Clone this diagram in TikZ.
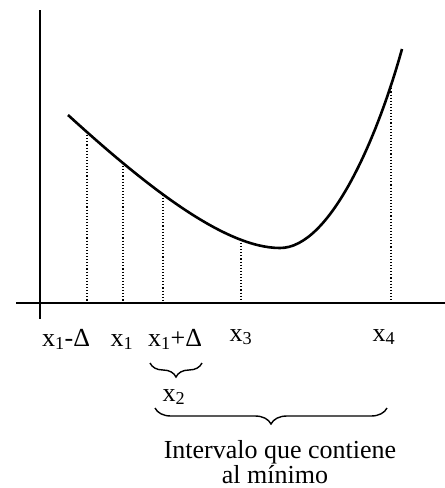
\documentclass[tikz,border=0pt]{standalone}
\usepackage{fontspec}
\setmainfont{Liberation Serif}
\usetikzlibrary{decorations.pathreplacing,intersections}
\begin{document}
\begin{tikzpicture}[x=1pt,y=-1pt,
  axisline/.style={line width=2pt},
  curveline/.style={line width=2.6pt},
  dropline/.style={dotted,line width=1.1pt},
  lbl/.style={font=\fontsize{26}{26}\selectfont,inner sep=0pt},
  bracestyle/.style={decorate,decoration={brace,mirror,amplitude=14pt},line width=1.4pt}]
\useasboundingbox (0,0) rectangle (445,488);
% axes
\coordinate (yt) at (40,10);
\coordinate (yb) at (40,319);
\coordinate (xl) at (16,303);
\coordinate (xr) at (445,303);
\draw[axisline] (yt) -- (yb);
\draw[axisline] (xl) -- (xr);
% curve
\coordinate (c0) at (68,115);
\coordinate (cm) at (280,248);
\coordinate (ce) at (402,49);
\draw[curveline,name path=curve] (c0) .. controls (147,187) and (225,248) .. (cm)
  .. controls (330,248) and (377,139) .. (ce);
% drop lines
\foreach \xx/\nm in {87/p1,123/p2,163/p3,241/p4,391/p5}{
  \path[name path=v\nm] (\xx,0) -- (\xx,310);
  \path[name intersections={of=curve and v\nm, by=\nm}];
  \draw[dropline] (\nm) -- (\nm |- xl);
}
% labels
\node[lbl,anchor=base] (l1) at (66,346) {x\textsubscript{1}-Δ};
\node[lbl,anchor=base] (l2) at (122,346) {x\textsubscript{1}};
\node[lbl,anchor=base] (l3) at (175,346) {x\textsubscript{1}+Δ};
\node[lbl,anchor=base] (l4) at (241,341) {x\textsubscript{3}};
\node[lbl,anchor=base] (l5) at (384,341) {x\textsubscript{4}};
% small brace
\coordinate (b1a) at (150,363);
\coordinate (b1b) at (202,363);
\draw[bracestyle] (b1a) -- (b1b);
\node[lbl,anchor=base] (x2) at (174,401) {x\textsubscript{2}};
% big brace
\coordinate (b2a) at (155,408);
\coordinate (b2b) at (387,408);
\draw[bracestyle,decoration={amplitude=16pt}] (b2a) -- (b2b);
\node[lbl,anchor=base] (iv) at (280,458) {Intervalo que contiene};
\node[lbl,anchor=base] (iv2) at (275,483) {al mínimo};
\end{tikzpicture}
\end{document}
